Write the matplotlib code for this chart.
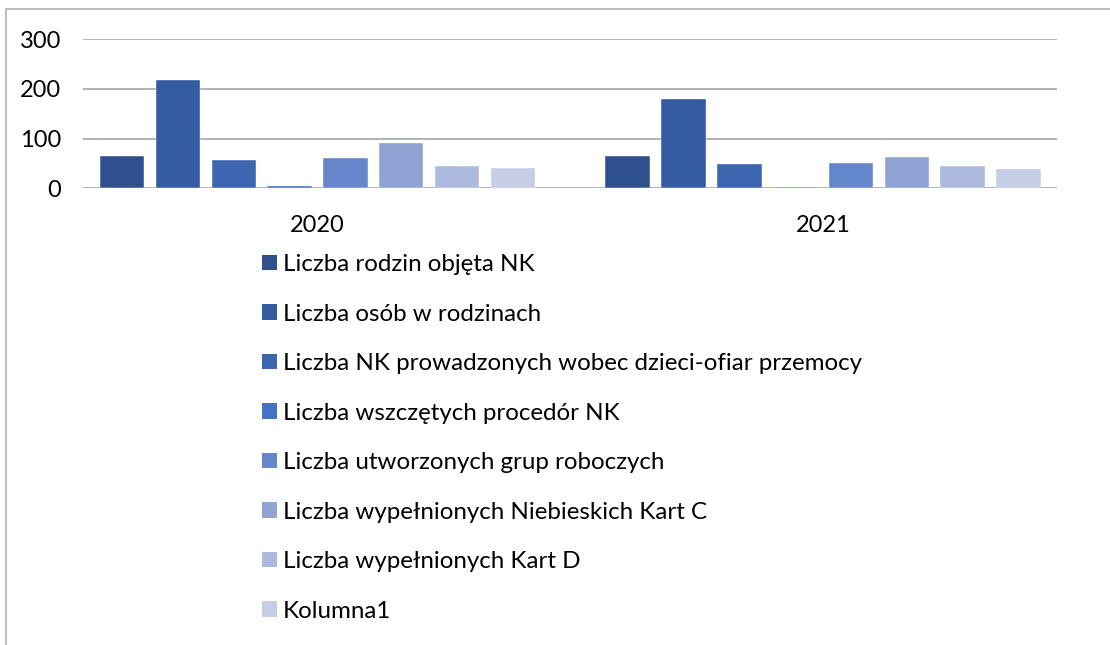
import matplotlib
matplotlib.use("Agg")
import matplotlib.pyplot as plt
import numpy as np
from matplotlib.patches import Patch
from matplotlib.lines import Line2D

years = ["2020", "2021"]
series = [
    "Liczba rodzin objęta NK",
    "Liczba osób w rodzinach",
    "Liczba NK prowadzonych wobec dzieci-ofiar przemocy",
    "Liczba wszczętych procedór NK",
    "Liczba utworzonych grup roboczych",
    "Liczba wypełnionych Niebieskich Kart C",
    "Liczba wypełnionych Kart D",
    "Kolumna1",
]
values_2020 = [65, 218, 56, 5, 60, 92, 45, 40]
values_2021 = [65, 180, 49, 3, 50, 62, 45, 38]
yticks = [0, 100, 200, 300]

colors = ["#2F528F", "#355CA3", "#3D66B0", "#4472C4",
          "#6586CA", "#8FA3D4", "#ADBADF", "#C5CDE7"]

plt.rcParams["font.family"] = ["Lato", "DejaVu Sans"]

fig = plt.figure(figsize=(11.1, 6.45), dpi=100)
ax = fig.add_axes([0.0748, 0.708, 0.8775, 0.2315])

x = np.arange(len(years))
step = 0.1104
width = 0.088
for i, name in enumerate(series):
    vals = [values_2020[i], values_2021[i]]
    ax.bar(x + (i - 3.5) * step, vals, width, color=colors[i],
           edgecolor="white", linewidth=0.3, label=name, zorder=3)

ax.set_xlim(-0.4639, 1.4629)
ax.set_ylim(0, 300)
ax.set_yticks(yticks)
ax.set_xticks(x)
ax.set_xticklabels(years)
ax.grid(axis="y", color="#A6A6A6", linewidth=1.2, zorder=0)
for s in ax.spines.values():
    s.set_visible(False)
ax.tick_params(axis="both", length=0, labelsize=17, labelcolor="black")
ax.tick_params(axis="y", pad=16)
ax.tick_params(axis="x", pad=19)

handles = [Patch(facecolor=c) for c in colors]
fig.legend(handles, series, loc="upper left",
           bbox_to_anchor=(262 / 1110, 1 - 254 / 645),
           frameon=False, fontsize=17.4, borderpad=0, borderaxespad=0,
           handlelength=0.6, handleheight=0.6, handletextpad=0.27,
           labelspacing=1.18)

# obramowanie wykresu
fig.add_artist(Line2D([6 / 1110, 1], [1 - 9 / 645, 1 - 9 / 645],
                      color="#BFBFBF", linewidth=1.5))
fig.add_artist(Line2D([6 / 1110, 6 / 1110], [0, 1 - 9 / 645],
                      color="#BFBFBF", linewidth=1.5))

fig.savefig("out.png", dpi=100)
